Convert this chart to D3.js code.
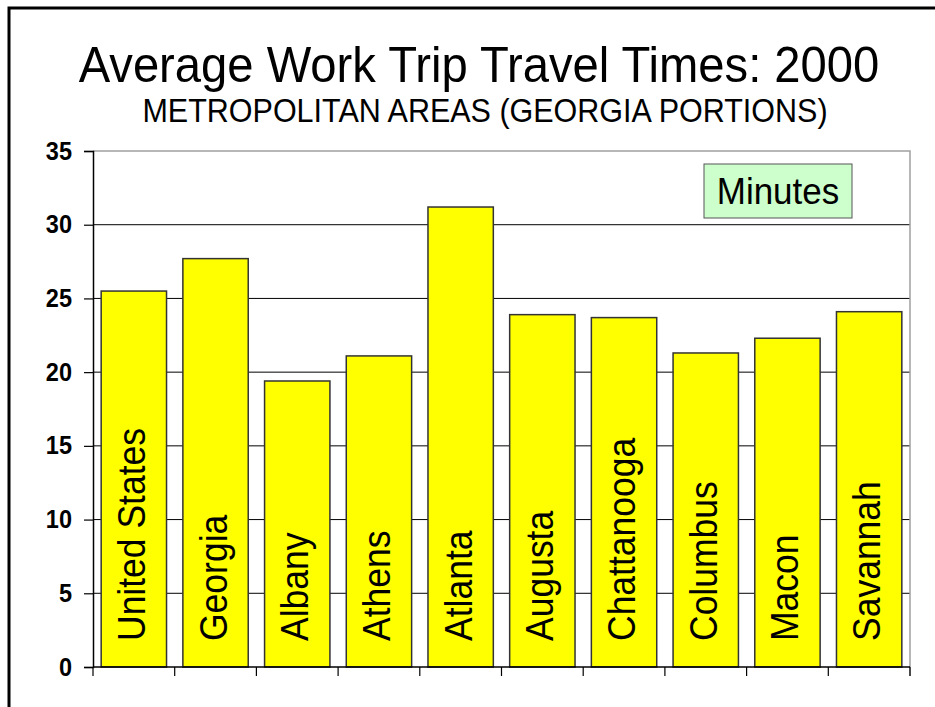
<!DOCTYPE html>
<html>
<head>
<meta charset="utf-8">
<script src="https://cdn.jsdelivr.net/npm/d3@7"></script>
<style>
  html, body { margin: 0; padding: 0; background: #fff; }
  svg { display: block; font-family: Arial, "Liberation Sans", sans-serif; }
</style>
</head>
<body>
<svg id="chart" width="935" height="707"></svg>
<script>
// Average travel time to work, minutes (Census 2000)
const areas = ["United States", "Georgia", "Albany", "Athens", "Atlanta",
               "Augusta", "Chattanooga", "Columbus", "Macon", "Savannah"];
const minutes = [25.5, 27.7, 19.4, 21.1, 31.2, 23.9, 23.7, 21.3, 22.3, 24.1];
const yTicks = [0, 5, 10, 15, 20, 25, 30, 35];

const titleText = "Average Work Trip Travel Times: 2000";
const subtitleText = "METROPOLITAN AREAS (GEORGIA PORTIONS)";
const unitText = "Minutes";

// glyphs are drawn slightly taller than their natural proportions
const stretch = 1.07;

const svg = d3.select("#chart");
const plot = { left: 93, right: 910, top: 151, bottom: 667 };

const x = d3.scaleBand()
  .domain(areas)
  .range([plot.left, plot.right])
  .paddingInner(0.2)
  .paddingOuter(0.1);

const y = d3.scaleLinear()
  .domain([0, 35])
  .range([plot.bottom, plot.top]);

// slide frame (left and top edges)
svg.append("path")
  .attr("d", `M9,707 V8 H935`)
  .attr("fill", "none")
  .attr("stroke", "#000")
  .attr("stroke-width", 3);

// titles
svg.append("text")
  .attr("transform", `translate(479,82) scale(1,${stretch})`)
  .attr("text-anchor", "middle")
  .attr("font-size", 47.2)
  .text(titleText);

svg.append("text")
  .attr("transform", `translate(485,122) scale(1,${stretch})`)
  .attr("text-anchor", "middle")
  .attr("font-size", 30.5)
  .text(subtitleText);

// horizontal gridlines
svg.append("g")
  .selectAll("line")
  .data(yTicks.filter(d => d > 0 && d < 35))
  .join("line")
  .attr("x1", plot.left).attr("x2", plot.right)
  .attr("y1", d => y(d)).attr("y2", d => y(d))
  .attr("stroke", "#000")
  .attr("stroke-width", 1);

// plot area border (top and right)
svg.append("path")
  .attr("d", `M${plot.left},${plot.top} H${plot.right} V${plot.bottom + 9}`)
  .attr("fill", "none")
  .attr("stroke", "#a0a0a0")
  .attr("stroke-width", 1.5);

// bars
svg.append("g")
  .selectAll("rect")
  .data(areas)
  .join("rect")
  .attr("x", d => x(d))
  .attr("width", x.bandwidth())
  .attr("y", (d, i) => y(minutes[i]))
  .attr("height", (d, i) => y(0) - y(minutes[i]))
  .attr("fill", "#ffff00")
  .attr("stroke", "#333")
  .attr("stroke-width", 1.5);

// category names written up inside the bars
svg.append("g")
  .selectAll("text")
  .data(areas)
  .join("text")
  .attr("transform", d =>
    `translate(${x(d) + x.bandwidth() / 2 + 11},641) rotate(-90) scale(1,${stretch})`)
  .attr("font-size", 35.5)
  .text(d => d);

// y axis
const yAxis = d3.axisLeft(y)
  .tickValues(yTicks)
  .tickSize(9)
  .tickPadding(12)
  .tickFormat(d3.format("d"));

const gy = svg.append("g")
  .attr("transform", `translate(${plot.left},0)`)
  .call(yAxis);
gy.select(".domain").attr("stroke", "#000").attr("stroke-width", 1.5);
gy.selectAll(".tick line").attr("stroke", "#000").attr("stroke-width", 1.2);
gy.selectAll(".tick text")
  .attr("font-family", "Arial, 'Liberation Sans', sans-serif")
  .attr("font-size", 23.5)
  .attr("font-weight", "bold")
  .attr("fill", "#000")
  .attr("dy", null)
  .attr("transform", `translate(-21,8) scale(1,${stretch})`)
  .attr("x", 0);

// x axis: baseline with ticks at category boundaries
const boundaries = areas.map(d => x(d) - x.step() * x.paddingInner() / 2);
boundaries.push(plot.right);
const gx = svg.append("g");
gx.append("line")
  .attr("x1", plot.left).attr("x2", plot.right)
  .attr("y1", plot.bottom).attr("y2", plot.bottom)
  .attr("stroke", "#000").attr("stroke-width", 1.5);
gx.selectAll("line.tk")
  .data(boundaries)
  .join("line")
  .attr("class", "tk")
  .attr("x1", d => d).attr("x2", d => d)
  .attr("y1", plot.bottom).attr("y2", plot.bottom + 9)
  .attr("stroke", "#000").attr("stroke-width", 1.2);

// unit label box
const unit = svg.append("g");
unit.append("rect")
  .attr("x", 704).attr("y", 164)
  .attr("width", 148).attr("height", 54)
  .attr("fill", "#ccffcc")
  .attr("stroke", "#555")
  .attr("stroke-width", 1);
unit.append("text")
  .attr("transform", `translate(778,204) scale(1,${stretch})`)
  .attr("text-anchor", "middle")
  .attr("font-size", 35)
  .text(unitText);
</script>
</body>
</html>
